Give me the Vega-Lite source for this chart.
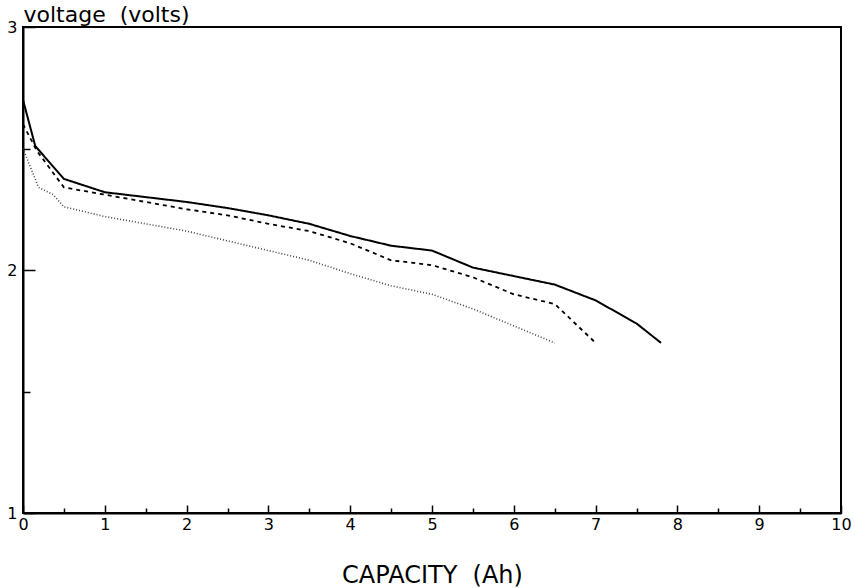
{
  "$schema": "https://vega.github.io/schema/vega-lite/v6.json",
  "width": 818,
  "height": 486,
  "autosize": {"type": "none"},
  "padding": {"left": 23, "top": 27, "right": 14, "bottom": 75},
  "background": "white",
  "config": {
    "view": {"stroke": "black", "strokeWidth": 2},
    "axis": {
      "domainColor": "black", "domainWidth": 2, "tickColor": "black", "tickWidth": 1.5,
      "labelColor": "black", "titleColor": "black",
      "labelFont": "DejaVu Sans", "titleFont": "DejaVu Sans", "grid": false
    }
  },
  "data": {
    "values": [
      {"series": "a", "cap": 0, "v": 2.70},
      {"series": "a", "cap": 0.15, "v": 2.51},
      {"series": "a", "cap": 0.5, "v": 2.375},
      {"series": "a", "cap": 1.0, "v": 2.32},
      {"series": "a", "cap": 1.5, "v": 2.30},
      {"series": "a", "cap": 2.0, "v": 2.28},
      {"series": "a", "cap": 2.5, "v": 2.255},
      {"series": "a", "cap": 3.0, "v": 2.225},
      {"series": "a", "cap": 3.5, "v": 2.19},
      {"series": "a", "cap": 4.0, "v": 2.14},
      {"series": "a", "cap": 4.5, "v": 2.10},
      {"series": "a", "cap": 5.0, "v": 2.08},
      {"series": "a", "cap": 5.5, "v": 2.01},
      {"series": "a", "cap": 6.0, "v": 1.975},
      {"series": "a", "cap": 6.5, "v": 1.94},
      {"series": "a", "cap": 7.0, "v": 1.875},
      {"series": "a", "cap": 7.5, "v": 1.78},
      {"series": "a", "cap": 7.8, "v": 1.70},
      {"series": "b", "cap": 0, "v": 2.60},
      {"series": "b", "cap": 0.17, "v": 2.49},
      {"series": "b", "cap": 0.5, "v": 2.34},
      {"series": "b", "cap": 1.0, "v": 2.31},
      {"series": "b", "cap": 1.5, "v": 2.28},
      {"series": "b", "cap": 2.0, "v": 2.25},
      {"series": "b", "cap": 2.5, "v": 2.225},
      {"series": "b", "cap": 3.0, "v": 2.19},
      {"series": "b", "cap": 3.5, "v": 2.16},
      {"series": "b", "cap": 4.0, "v": 2.11},
      {"series": "b", "cap": 4.5, "v": 2.04},
      {"series": "b", "cap": 5.0, "v": 2.02},
      {"series": "b", "cap": 5.5, "v": 1.97},
      {"series": "b", "cap": 6.0, "v": 1.90},
      {"series": "b", "cap": 6.5, "v": 1.86},
      {"series": "b", "cap": 7.0, "v": 1.70},
      {"series": "c", "cap": 0, "v": 2.50},
      {"series": "c", "cap": 0.19, "v": 2.34},
      {"series": "c", "cap": 0.37, "v": 2.31},
      {"series": "c", "cap": 0.5, "v": 2.26},
      {"series": "c", "cap": 1.0, "v": 2.22},
      {"series": "c", "cap": 1.5, "v": 2.19},
      {"series": "c", "cap": 2.0, "v": 2.16},
      {"series": "c", "cap": 2.5, "v": 2.12},
      {"series": "c", "cap": 3.0, "v": 2.08},
      {"series": "c", "cap": 3.5, "v": 2.04},
      {"series": "c", "cap": 4.0, "v": 1.985},
      {"series": "c", "cap": 4.5, "v": 1.935},
      {"series": "c", "cap": 5.0, "v": 1.90},
      {"series": "c", "cap": 5.5, "v": 1.84},
      {"series": "c", "cap": 6.0, "v": 1.77},
      {"series": "c", "cap": 6.5, "v": 1.70}
    ]
  },
  "mark": {"type": "line", "clip": true},
  "encoding": {
    "x": {
      "field": "cap", "type": "quantitative",
      "scale": {"domain": [0, 10], "nice": false},
      "axis": {
        "values": [0, 0.5, 1, 1.5, 2, 2.5, 3, 3.5, 4, 4.5, 5, 5.5, 6, 6.5, 7, 7.5, 8, 8.5, 9, 9.5, 10],
        "labelExpr": "datum.value % 1 === 0 ? format(datum.value, 'd') : ''",
        "tickSize": {"condition": {"test": "datum.value % 1 === 0", "value": -8}, "value": -5},
        "labelFlush": false,
        "labelPadding": 11,
        "labelFontSize": 16,
        "title": "CAPACITY\u00a0\u00a0(Ah)",
        "titleFontSize": 24,
        "titleFontWeight": "normal",
        "titleY": 69,
        "titleBaseline": "alphabetic"
      }
    },
    "y": {
      "field": "v", "type": "quantitative",
      "scale": {"domain": [1, 3], "nice": false, "zero": false},
      "axis": {
        "values": [1, 1.5, 2, 2.5, 3],
        "labelExpr": "datum.value % 1 === 0 ? format(datum.value, 'd') : ''",
        "tickSize": {"condition": {"test": "datum.value % 1 === 0", "value": -12}, "value": -7},
        "labelFlush": false,
        "labelPadding": 18,
        "labelFontSize": 16,
        "title": "voltage\u00a0\u00a0(volts)",
        "titleFontSize": 22,
        "titleFontWeight": "normal",
        "titleAngle": 0,
        "titleAlign": "left",
        "titleBaseline": "alphabetic",
        "titleX": 0,
        "titleY": -6
      }
    },
    "strokeDash": {
      "field": "series", "type": "nominal",
      "scale": {"domain": ["a", "b", "c"], "range": [[1, 0], [4, 4], [1, 2]]},
      "legend": null
    },
    "strokeWidth": {
      "field": "series", "type": "nominal",
      "scale": {"domain": ["a", "b", "c"], "range": [2, 1.6, 1]},
      "legend": null
    },
    "color": {
      "field": "series", "type": "nominal",
      "scale": {"domain": ["a", "b", "c"], "range": ["black", "black", "#444444"]},
      "legend": null
    }
  }
}
